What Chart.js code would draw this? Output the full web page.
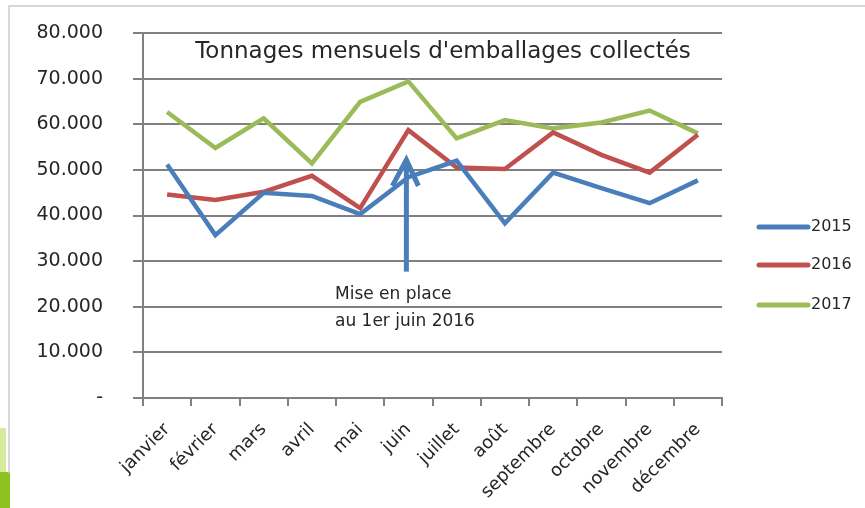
<!DOCTYPE html>
<html><head><meta charset="utf-8">
<script src="https://cdn.jsdelivr.net/npm/chart.js@4/dist/chart.umd.min.js"></script>
<style>
html,body{margin:0;padding:0;background:#fff;}
#wrap{position:relative;width:865px;height:508px;overflow:hidden;}
#frame{position:absolute;left:8px;top:5px;right:-2px;bottom:-2px;border-left:2px solid #d8d8d8;border-top:2px solid #d8d8d8;}
#leaf{position:absolute;left:-4px;top:472px;width:14px;height:46px;background:#8cc21f;border-radius:3px;}
#leaf2{position:absolute;left:0px;top:428px;width:6px;height:44px;background:#d6ea9c;}
canvas{position:absolute;left:0;top:0;}
</style></head>
<body><div id="wrap"><div id="frame"></div><div id="leaf2"></div><div id="leaf"></div><canvas id="c" width="865" height="508"></canvas></div>
<script>
const months = ["janvier","février","mars","avril","mai","juin","juillet","août","septembre","octobre","novembre","décembre"];
const s2015 = [51200,35700,45000,44300,40300,48400,52000,38300,49400,46000,42700,47700];
const s2016 = [44600,43400,45200,48700,41600,58700,50500,50200,58200,53300,49400,57700];
const s2017 = [62700,54800,61300,51400,64900,69400,56900,60900,59100,60400,63000,58000];
const seriesNames = ["2015","2016","2017"];
const yTicks = [0,10000,20000,30000,40000,50000,60000,70000,80000];
const titleText = "Tonnages mensuels d'emballages collectés";
const noteLines = ["Mise en place","au 1er juin 2016"];
const arrowFrom = 27700, arrowTo = 52200, arrowMonth = "juin";

const colors = ["#4a7ebb","#c0504d","#9bbb59"];
const FONT = "'DejaVu Sans', sans-serif";

function fmt(v){ if(v===0) return "-"; return (v/1000).toFixed(3); }

const overlay = {
  id:'overlay',
  afterDatasetsDraw(chart){
    const ctx = chart.ctx, xs = chart.scales.x, ys = chart.scales.y;
    ctx.save();
    // title
    ctx.fillStyle = "#262626";
    ctx.font = "23px " + FONT;
    ctx.textAlign = "center"; ctx.textBaseline = "middle";
    ctx.fillText(titleText, 443, 52);
    // arrow
    const ax = xs.getPixelForValue(months.indexOf(arrowMonth)) - 2;
    const y0 = ys.getPixelForValue(arrowFrom), y1 = ys.getPixelForValue(arrowTo);
    ctx.strokeStyle = colors[0]; ctx.lineWidth = 5; ctx.lineCap = "butt"; ctx.lineJoin="miter";
    ctx.beginPath(); ctx.moveTo(ax, y0); ctx.lineTo(ax, y1+2); ctx.stroke();
    ctx.beginPath(); ctx.moveTo(ax-14, y1+26); ctx.lineTo(ax, y1); ctx.lineTo(ax+12, y1+26); ctx.stroke();
    // note
    ctx.fillStyle = "#262626"; ctx.font = "17px " + FONT; ctx.textAlign = "left";
    ctx.fillText(noteLines[0], 335, 295);
    ctx.fillText(noteLines[1], 335, 322);
    // legend
    const ly = [227,265,305];
    chart.data.datasets.forEach((d,i)=>{
      ctx.strokeStyle = d.borderColor; ctx.lineWidth = 5; ctx.lineCap="round";
      ctx.beginPath(); ctx.moveTo(759, ly[i]); ctx.lineTo(808, ly[i]); ctx.stroke();
      ctx.fillStyle = "#262626"; ctx.font = "16px " + FONT; ctx.textAlign="left";
      ctx.fillText(d.label, 811, ly[i]);
    });
    ctx.restore();
  }
};

new Chart(document.getElementById('c'), {
  type:'line',
  data:{
    labels: months,
    datasets:[s2015,s2016,s2017].map((d,i)=>({
      label: seriesNames[i], data: d, borderColor: colors[i], backgroundColor: colors[i],
      borderWidth: 4.5, pointRadius: 0, tension: 0, fill:false
    }))
  },
  options:{
    responsive:false, animation:false,
    layout:{padding:{left:0,right:143,top:33,bottom:0}},
    plugins:{legend:{display:false}, title:{display:false}, tooltip:{enabled:false}},
    scales:{
      x:{
        offset:true,
        grid:{offset:true, drawOnChartArea:false, drawTicks:true, tickLength:8, color:"#808080", lineWidth:2},
        border:{color:"#808080", width:2},
        ticks:{color:"#262626", font:{family:FONT, size:18}, minRotation:45, maxRotation:45, padding:13, autoSkip:false},
        afterFit(s){ s.height = 110; s.paddingLeft = 0; s.paddingRight = 0; }
      },
      y:{
        min:0, max:80000,
        afterBuildTicks(s){ s.ticks = yTicks.map(v=>({value:v})); },
        grid:{color:"#808080", lineWidth:2, drawTicks:true, tickLength:10},
        border:{color:"#808080", width:2},
        ticks:{color:"#262626", font:{family:FONT, size:19}, padding:30, callback:(v)=>fmt(v)},
        afterFit(s){ s.width = 143; s.paddingTop = 0; s.paddingBottom = 0; }
      }
    }
  },
  plugins:[overlay]
});
</script></body></html>
